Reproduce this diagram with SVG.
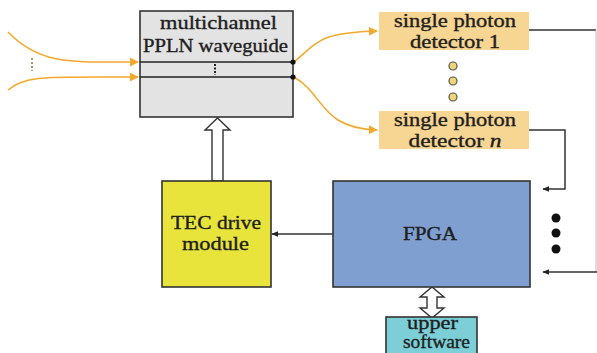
<svg xmlns="http://www.w3.org/2000/svg" width="597" height="353" viewBox="0 0 597 353">
<defs>
<style>
.t{font-family:"Liberation Serif","Times New Roman",serif;font-size:18px;fill:#1e1e1e;stroke:#1e1e1e;stroke-width:0.35;text-anchor:middle}
.box{stroke:#333;stroke-width:1.6}
.fib{fill:none;stroke:#F3A92E;stroke-width:1.6}
.wire{fill:none;stroke:#333;stroke-width:1.5}
.hollow{fill:#fff;stroke:#333;stroke-width:1.4}
</style>
<marker id="oa" viewBox="0 0 10 10" refX="9" refY="5" markerWidth="9" markerHeight="9" markerUnits="userSpaceOnUse" orient="auto">
<path d="M0,0 L10,5 L0,10 z" fill="#F3A92E"/>
</marker>
<marker id="ka" viewBox="0 0 10 10" refX="9" refY="5" markerWidth="7" markerHeight="7" markerUnits="userSpaceOnUse" orient="auto">
<path d="M0,1 L10,5 L0,9 z" fill="#222"/>
</marker>
</defs>

<g id="connectors">
<path class="fib" d="M8,32 C40,65 70,62 138,62" marker-end="url(#oa)"/>
<path class="fib" d="M8,90 C25,75 45,77 138,77" marker-end="url(#oa)"/>
<path class="fib" d="M294,62 C320,40 320,33 377,31" marker-end="url(#oa)"/>
<path class="fib" d="M294,77 C325,95 320,128 377,130" marker-end="url(#oa)"/>
<path class="wire" d="M529,30 L596,30" />
<path d="M596,30 L596,272" fill="none" stroke="#bbb" stroke-width="1"/>
<path class="wire" d="M597,272 L543,272" marker-end="url(#ka)"/>
<path class="wire" d="M529,130 L565,130 L565,189 L543,189" marker-end="url(#ka)"/>
<path class="wire" d="M333,234 L272,234" marker-end="url(#ka)"/>
<path class="hollow" d="M212,181 L212,130 L205,130 L217.5,118 L230,130 L223,130 L223,181 Z"/>
<path class="hollow" d="M427,297 L420,297 L432,287 L444,297 L437,297 L437,308 L444,308 L432,318 L420,308 L427,308 Z"/>
</g>

<g id="waveguide">
<rect class="box" x="140" y="11" width="153" height="106" fill="#E3E3E3"/>
<text class="t" x="218.5" y="29" textLength="117" lengthAdjust="spacingAndGlyphs">multichannel</text>
<text class="t" x="215.5" y="52" textLength="145" lengthAdjust="spacingAndGlyphs">PPLN waveguide</text>
<line x1="140" y1="62" x2="293" y2="62" stroke="#222" stroke-width="1.6"/>
<line x1="140" y1="77" x2="293" y2="77" stroke="#222" stroke-width="1.6"/>
<line x1="215" y1="64" x2="215" y2="75" stroke="#222" stroke-width="2" stroke-dasharray="2,1.5"/>
<circle cx="293" cy="62" r="2.6" fill="#111"/>
<circle cx="293" cy="77" r="2.6" fill="#111"/>
</g>

<g id="input-dots">
<line x1="32" y1="58" x2="32" y2="71" stroke="#A89870" stroke-width="2" stroke-dasharray="2,2"/>
</g>

<g id="detector1">
<rect x="379" y="12" width="150" height="38" fill="#F7D593"/>
<text class="t" x="455" y="27" textLength="122" lengthAdjust="spacingAndGlyphs">single photon</text>
<text class="t" x="455" y="48" textLength="90" lengthAdjust="spacingAndGlyphs">detector 1</text>
</g>

<g id="detector-dots">
<circle cx="453" cy="66" r="4" fill="#EBD574" stroke="#555" stroke-width="1.2"/>
<circle cx="453" cy="81" r="4" fill="#EBD574" stroke="#555" stroke-width="1.2"/>
<circle cx="453" cy="97" r="4" fill="#EBD574" stroke="#555" stroke-width="1.2"/>
</g>

<g id="detectorn">
<rect x="379" y="111" width="150" height="38" fill="#F7D593"/>
<text class="t" x="455" y="126" textLength="122" lengthAdjust="spacingAndGlyphs">single photon</text>
<text class="t" x="455" y="147" textLength="93" lengthAdjust="spacingAndGlyphs">detector <tspan font-style="italic">n</tspan></text>
</g>

<g id="fpga">
<rect class="box" x="333" y="181" width="197" height="106" fill="#7F9FD0"/>
<text class="t" x="430" y="240" textLength="54" lengthAdjust="spacingAndGlyphs">FPGA</text>
</g>

<g id="channel-dots">
<circle cx="556" cy="218" r="4.5" fill="#111"/>
<circle cx="556" cy="233" r="4.5" fill="#111"/>
<circle cx="556" cy="249" r="4.5" fill="#111"/>
</g>

<g id="tec">
<rect class="box" x="162" y="181" width="109" height="106" fill="#E8E43C"/>
<text class="t" x="216" y="229" textLength="90" lengthAdjust="spacingAndGlyphs">TEC drive</text>
<text class="t" x="215.5" y="250" textLength="67" lengthAdjust="spacingAndGlyphs">module</text>
</g>

<g id="upper-software">
<rect class="box" x="386" y="317" width="91" height="40" fill="#7CCFD6"/>
<text class="t" x="432.5" y="329" textLength="51" lengthAdjust="spacingAndGlyphs">upper</text>
<text class="t" x="436.5" y="348" textLength="67" lengthAdjust="spacingAndGlyphs">software</text>
</g>
</svg>
